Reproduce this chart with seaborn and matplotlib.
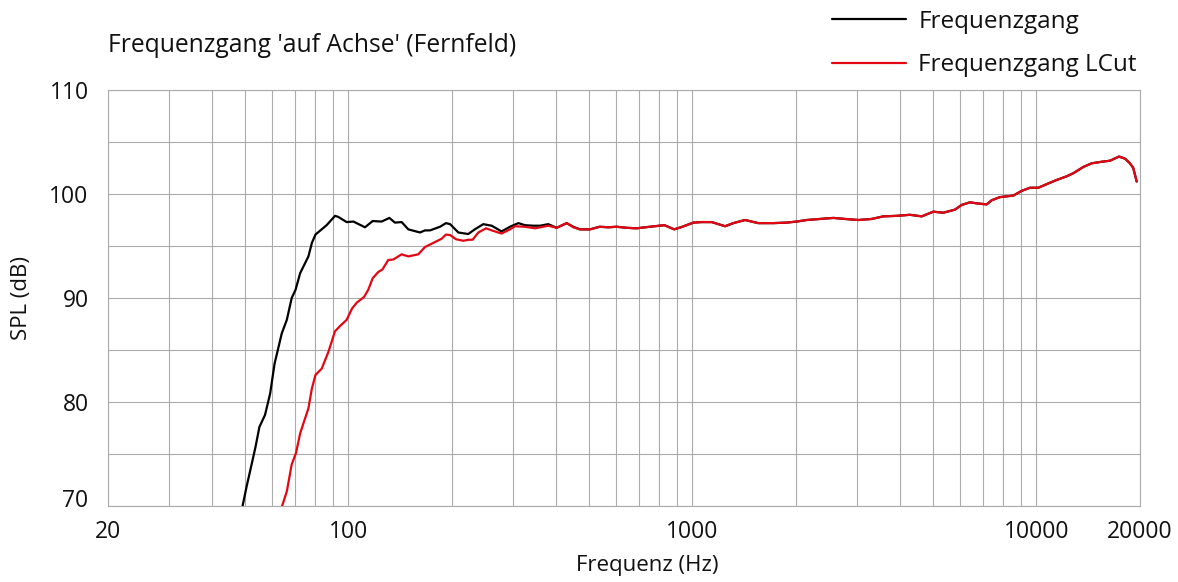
import numpy as np
import pandas as pd
import matplotlib
matplotlib.use("Agg")
import matplotlib.pyplot as plt
import matplotlib.transforms as mtransforms
from matplotlib.ticker import FixedLocator, NullFormatter
import seaborn as sns

# --- Measured response: low-frequency part of the full-range curve ---
freq_full_lf = [48.5, 49.3, 50.6, 52.3, 53.7, 55.1, 57.2, 59.2, 61.0, 64.0, 66.2,
                68.4, 70.2, 72.4, 76.5, 78.3, 80.2, 86.4, 91.4, 93.4, 98.8, 103.4,
                111.7, 117.6, 124.9, 131.5, 136.5, 142.8, 149.3, 161.4, 166.9,
                172.6, 184.6, 192.1, 197.5, 208.7, 223.0, 233.0, 246.6, 260.9,
                278.7, 294.9, 311.8, 326.0, 344.8, 360.6, 381.0, 403.0, 431.0, 450.5]
spl_full_lf = [69.0, 70.1, 71.9, 74.0, 75.7, 77.6, 78.75, 80.8, 83.7, 86.6, 87.9,
               90.0, 90.8, 92.4, 94.0, 95.3, 96.1, 97.0, 97.9, 97.8, 97.3, 97.35,
               96.8, 97.4, 97.35, 97.7, 97.25, 97.3, 96.6, 96.3, 96.5,
               96.5, 96.85, 97.2, 97.1, 96.3, 96.15, 96.6, 97.1, 96.95,
               96.4, 96.85, 97.2, 97.0, 96.95, 96.95, 97.1, 96.75, 97.2, 96.85]

# --- Low-cut variant: low-frequency part ---
freq_lcut_lf = [63.0, 64.0, 66.2, 68.4, 70.4, 72.4, 76.5, 78.3, 80.2, 83.6, 87.4,
                91.4, 94.5, 98.8, 102.5, 105.7, 111.0, 114.2, 117.6, 122.1, 125.6,
                130.5, 135.0, 142.8, 149.3, 159.6, 166.9, 176.5, 186.6, 192.1,
                197.5, 205.4, 215.8, 223.0, 229.6, 238.6, 251.2, 260.9, 278.7,
                294.9, 305.0, 326.0, 348.6, 381.0, 403.0, 431.0, 450.5]
spl_lcut_lf = [69.0, 69.9, 71.4, 74.0, 75.1, 77.0, 79.4, 81.3, 82.6, 83.2, 84.8,
               86.8, 87.3, 87.9, 89.0, 89.55, 90.1, 90.8, 91.9, 92.5, 92.75,
               93.65, 93.7, 94.2, 94.0, 94.2, 94.9, 95.3, 95.7, 96.1,
               96.05, 95.65, 95.5, 95.6, 95.6, 96.3, 96.7, 96.5, 96.2,
               96.6, 96.9, 96.85, 96.7, 96.95, 96.75, 97.2, 96.8]

# --- Mid/high-frequency part, identical for both curves ---
freq_hf = [471, 504, 537, 569, 602, 644, 688, 730, 776, 829, 885, 935, 1006, 1064,
           1138, 1244, 1315, 1422, 1554, 1718, 1880, 2009, 2149, 2349, 2568, 2777,
           3035, 3320, 3589, 3924, 4290, 4640, 5014, 5362, 5799, 6061, 6412, 6704,
           7168, 7411, 7834, 8566, 9058, 9576, 10125, 10712, 11452, 12244, 12800,
           13686, 14476, 15474, 16360, 17380, 18090, 18700, 19120, 19560]
spl_hf = [96.6, 96.6, 96.85, 96.8, 96.85, 96.75, 96.7, 96.8, 96.9, 97.0, 96.6, 96.85,
          97.25, 97.3, 97.3, 96.9, 97.2, 97.5, 97.2, 97.2, 97.25, 97.35, 97.5, 97.6,
          97.7, 97.6, 97.5, 97.6, 97.85, 97.9, 98.0, 97.85, 98.3, 98.2, 98.5, 98.95,
          99.2, 99.1, 99.0, 99.4, 99.7, 99.85, 100.3, 100.6, 100.6, 100.95, 101.35,
          101.7, 102.0, 102.6, 102.95, 103.1, 103.2, 103.6, 103.4, 102.95, 102.5, 101.2]

series_names = ["Frequenzgang", "Frequenzgang LCut"]
series_colors = ["#000000", "#e30613"]

x_major = [20, 100, 1000, 10000, 20000]
x_major_labels = ["20", "100", "1000", "10000", "20000"]
x_minor = [30, 40, 50, 60, 70, 80, 90, 200, 300, 400, 500, 600, 700, 800, 900,
           2000, 3000, 4000, 5000, 6000, 7000, 8000, 9000]
y_major = [70, 80, 90, 100, 110]
y_minor = [75, 85, 95, 105]

df = pd.concat([
    pd.DataFrame({"f": freq_full_lf + freq_hf, "spl": spl_full_lf + spl_hf,
                  "curve": series_names[0]}),
    pd.DataFrame({"f": freq_lcut_lf + freq_hf, "spl": spl_lcut_lf + spl_hf,
                  "curve": series_names[1]}),
], ignore_index=True)

sns.set_style("white")
plt.rcParams["font.family"] = ["Open Sans", "DejaVu Sans"]
plt.rcParams.update({"text.color": "#111111", "axes.labelcolor": "#111111",
                     "xtick.color": "#111111", "ytick.color": "#111111"})
grid_col = "#ababab"
fs = 16.5

fig = plt.figure(figsize=(11.78, 5.82), dpi=100)
ax = fig.add_axes([108 / 1178, 1 - 506 / 582, 1032 / 1178, 416 / 582])

sns.lineplot(data=df, x="f", y="spl", hue="curve", palette=series_colors,
             hue_order=series_names, estimator=None, sort=True, linewidth=1.6,
             ax=ax, zorder=3)

ax.set_xscale("log")
ax.set_xlim(20, 20000)
ax.set_ylim(70, 110)

ax.xaxis.set_major_locator(FixedLocator(x_major))
ax.set_xticklabels(x_major_labels)
ax.xaxis.set_minor_locator(FixedLocator(x_minor))
ax.xaxis.set_minor_formatter(NullFormatter())
ax.yaxis.set_major_locator(FixedLocator(y_major))
ax.yaxis.set_minor_locator(FixedLocator(y_minor))
ax.yaxis.set_minor_formatter(NullFormatter())

ax.grid(True, which="both", color=grid_col, linewidth=0.8, zorder=0)
ax.set_axisbelow(True)
ax.tick_params(which="both", length=0)
ax.tick_params(axis="x", pad=10, labelsize=fs)
ax.tick_params(axis="y", pad=14, labelsize=fs)
for s in ax.spines.values():
    s.set_color(grid_col)
    s.set_linewidth(0.8)

# lift the bottom y label a little so it clears the axis line
lbl70 = ax.get_yticklabels()[0]
lbl70.set_transform(lbl70.get_transform() +
                    mtransforms.ScaledTranslation(0, 8 / 100, fig.dpi_scale_trans))

ax.set_xlabel("Frequenz (Hz)", fontsize=16)
ax.xaxis.set_label_coords((647 - 108) / 1032, (506 - 565) / 416)
ax.xaxis.label.set_va("center")
ax.set_ylabel("SPL (dB)", fontsize=16)
ax.yaxis.set_label_coords((22 - 108) / 1032, 0.5)
ax.yaxis.label.set_va("center")

fig.text(108 / 1178, 1 - 46 / 582, "Frequenzgang 'auf Achse' (Fernfeld)",
         fontsize=17.7, ha="left", va="center")

leg = ax.legend(loc="upper left", bbox_to_anchor=(832 / 1178, 1 - 10 / 582),
                bbox_transform=fig.transFigure, frameon=False, fontsize=17.5,
                handlelength=3.05, handletextpad=0.5, labelspacing=0.8,
                borderaxespad=0, borderpad=0)
for h in leg.get_lines():
    h.set_linewidth(1.6)

fig.savefig("out.png", dpi=100)
